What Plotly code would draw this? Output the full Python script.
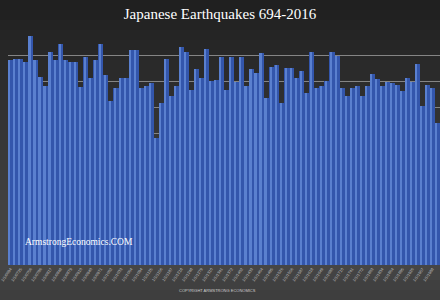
import plotly.graph_objects as go

# --- data ---
periods = ["1/1/0694","1/1/0709","1/1/0725","1/1/0740","1/1/0756","1/1/0771","1/1/0786","1/1/0802",
           "1/1/0817","1/1/0833","1/1/0848","1/1/0863","1/1/0879","1/1/0894","1/1/0910","1/1/0925",
           "1/1/0940","1/1/0956","1/1/0971","1/1/0987","1/1/1002","1/1/1017","1/1/1033","1/1/1048",
           "1/1/1064","1/1/1079","1/1/1094","1/1/1110","1/1/1125","1/1/1141","1/1/1156","1/1/1171",
           "1/1/1187","1/1/1202","1/1/1218","1/1/1233","1/1/1248","1/1/1264","1/1/1279","1/1/1295",
           "1/1/1310","1/1/1325","1/1/1341","1/1/1356","1/1/1372","1/1/1387","1/1/1402","1/1/1418",
           "1/1/1433","1/1/1449","1/1/1464","1/1/1479","1/1/1495","1/1/1510","1/1/1526","1/1/1541",
           "1/1/1556","1/1/1572","1/1/1587","1/1/1603","1/1/1618","1/1/1633","1/1/1649","1/1/1664",
           "1/1/1680","1/1/1695","1/1/1710","1/1/1726","1/1/1741","1/1/1757","1/1/1772","1/1/1787",
           "1/1/1803","1/1/1818","1/1/1834","1/1/1849","1/1/1864","1/1/1880","1/1/1895","1/1/1911",
           "1/1/1926","1/1/1941","1/1/1957","1/1/1972","1/1/1988","1/1/2003"]

quakes = [39.1, 39.3, 39.2, 38.8, 43.7, 39.1, 35.9, 34.2, 40.7, 39.1,
          42.2, 39.1, 38.8, 38.8, 34.0, 39.6, 35.7, 39.1, 42.2, 36.3,
          31.3, 33.8, 35.7, 35.7, 41.0, 41.0, 33.8, 34.2, 34.7, 24.3,
          30.8, 39.3, 32.3, 34.2, 41.5, 40.7, 33.3, 37.3, 35.7, 41.2,
          35.0, 35.2, 39.6, 33.3, 39.6, 34.8, 39.6, 34.2, 37.3, 36.6,
          40.4, 31.9, 37.7, 38.1, 30.8, 37.6, 37.6, 35.6, 36.9, 32.8,
          40.7, 33.7, 34.1, 35.0, 40.7, 39.8, 33.7, 32.2, 33.7, 34.1,
          32.2, 34.1, 36.4, 35.5, 34.1, 34.8, 34.7, 34.3, 33.2, 35.6,
          34.8, 38.3, 30.3, 34.3, 33.7, 27.1]

title_text = "Japanese Earthquakes 694-2016"
watermark = "ArmstrongEconomics.COM"
copyright_text = "COPYRIGHT ARMSTRONG ECONOMICS"

tick_vals = periods[::2]

fig = go.Figure()
# body of each column
fig.add_trace(go.Bar(x=periods, y=quakes, width=1.0,
                     marker=dict(color="#3356ac", line=dict(width=0)),
                     hoverinfo="x+y", showlegend=False))
# cylinder highlight stripe
fig.add_trace(go.Bar(x=periods, y=quakes, width=0.32, offset=-0.34,
                     marker=dict(color="#5a80cf", line=dict(width=0)),
                     hoverinfo="skip", showlegend=False))

# dark background gradient (figure-wide bands)
H = 300.0
top_px, bot_px = 29.0, 265.0
def py(p):
    return (bot_px - p) / (bot_px - top_px)
shapes = []
nb = 30
for i in range(nb):
    t = i / (nb - 1)
    if t < 0.85:
        g = int(32 + (74 - 32) * (t / 0.85))
    else:
        g = int(74 - (74 - 62) * ((t - 0.85) / 0.15))
    col = f"rgb({g},{g},{g})"
    shapes.append(dict(type="rect", xref="paper", yref="paper",
                       x0=-0.05, x1=1.05, y0=py(H * (i + 1) / nb), y1=py(H * i / nb),
                       fillcolor=col, line=dict(width=0), layer="below"))

fig.update_layout(
    width=440, height=300,
    margin=dict(l=5, r=0, t=29, b=35),
    barmode="overlay", bargap=0,
    paper_bgcolor="#333333", plot_bgcolor="rgba(0,0,0,0)",
    shapes=shapes,
    title=dict(text=title_text, x=0.5, xanchor="center", y=0.953, yanchor="middle",
               font=dict(family="Liberation Serif, DejaVu Serif, serif", size=15, color="#ffffff")),
    xaxis=dict(type="category", categoryorder="array", categoryarray=periods,
               range=[-0.5, len(periods) - 0.5],
               tickmode="array", tickvals=tick_vals, ticktext=tick_vals,
               tickangle=-55, tickfont=dict(family="Liberation Sans, Arial", size=4, color="#c4c4c4"),
               showgrid=False, showline=False, ticks="", zeroline=False),
    yaxis=dict(range=[0, 45], dtick=5, showgrid=True, gridcolor="#858585", gridwidth=1,
               showticklabels=False, zeroline=False, showline=False, ticks=""),
    annotations=[
        dict(text=watermark, xref="paper", yref="paper", x=0.034, y=py(242), xanchor="left",
             yanchor="middle", showarrow=False,
             font=dict(family="Liberation Serif, DejaVu Serif, serif", size=9.5, color="#ffffff")),
        dict(text=copyright_text, xref="paper", yref="paper", x=0.485, y=py(290), xanchor="center",
             yanchor="middle", showarrow=False,
             font=dict(family="Liberation Sans, Arial", size=4, color="#d0d0d0")),
    ],
)

fig.write_html("out.html")
